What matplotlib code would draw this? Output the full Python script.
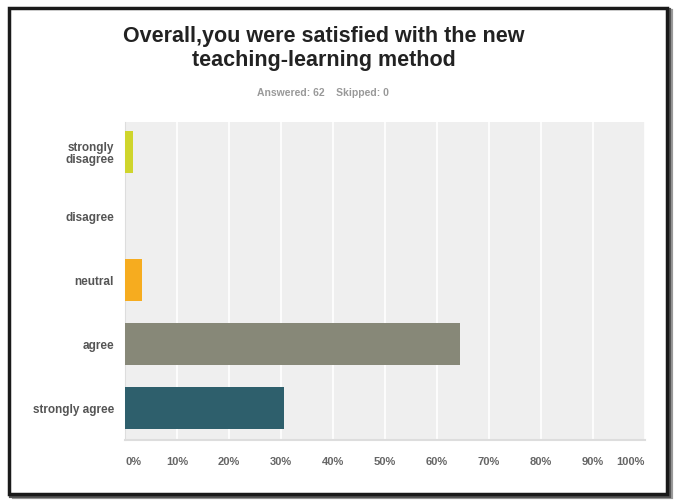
import matplotlib.pyplot as plt
from matplotlib.patches import Rectangle

# survey answers, percent of 62 respondents
categories = ["strongly\ndisagree", "disagree", "neutral", "agree", "strongly agree"]
percents = [1.61, 0.0, 3.23, 64.52, 30.65]
colors = ["#cfd52c", "#b0b0b0", "#f6ac1f", "#878878", "#2e5f6c"]
ticks = [0, 10, 20, 30, 40, 50, 60, 70, 80, 90, 100]
tick_labels = ["%d%%" % t for t in ticks]

plt.rcParams['font.family'] = ['Liberation Sans', 'DejaVu Sans']

fig = plt.figure(figsize=(6.76, 5.0), dpi=100)
fig.patch.set_facecolor("white")

# frame with a little shadow on the right/bottom
fx, fy, fw, fh = 0.014, 0.012, 0.972, 0.972
for off, col, lw in [(0.006, "#9a9a9a", 3), (0.003, "#555555", 3)]:
    fig.patches.append(Rectangle((fx + off, fy - off), fw, fh,
                                 transform=fig.transFigure, fill=False,
                                 edgecolor=col, linewidth=lw, zorder=0))
fig.patches.append(Rectangle((fx, fy), fw, fh, transform=fig.transFigure,
                             facecolor="white", edgecolor="#1a1a1a", linewidth=2.5, zorder=1))

ax = fig.add_axes([0.185, 0.12, 0.769, 0.636])
ax.set_facecolor("#efefef")
ax.set_zorder(2)

y = list(range(len(categories)))
ax.barh(y, percents, height=0.66, color=colors, edgecolor="none", zorder=3)

ax.set_xlim(0, 100)
ax.set_ylim(len(categories) - 0.5, -0.47)
ax.set_xticks(ticks)
ax.set_xticklabels(tick_labels, fontsize=8, color="#666666", fontweight="bold")
labs = ax.get_xticklabels()
labs[0].set_ha("left")
labs[-1].set_ha("right")
ax.set_yticks(y)
ax.set_yticklabels(categories, fontsize=8.5, color="#555555", fontweight="bold", linespacing=1.1)
ax.tick_params(axis="x", length=0, pad=12)
ax.tick_params(axis="y", length=0, pad=8)
ax.xaxis.grid(True, color="white", linewidth=1.2, zorder=1)
ax.set_axisbelow(True)
for s in ["top", "right"]:
    ax.spines[s].set_visible(False)
ax.spines["left"].set_color("#dddddd")
ax.spines["bottom"].set_color("#dddddd")
ax.spines["bottom"].set_linewidth(1.5)

fig.text(0.479, 0.903, "Overall,you were satisfied with the new\nteaching-learning method",
         ha="center", va="center", fontsize=15.5, fontweight="bold", color="#222222",
         linespacing=1.2, zorder=5)
fig.text(0.477, 0.814, "Answered: 62    Skipped: 0", ha="center", va="center",
         fontsize=7.5, fontweight="bold", color="#999999", zorder=5)

fig.savefig("out.png", dpi=100)
